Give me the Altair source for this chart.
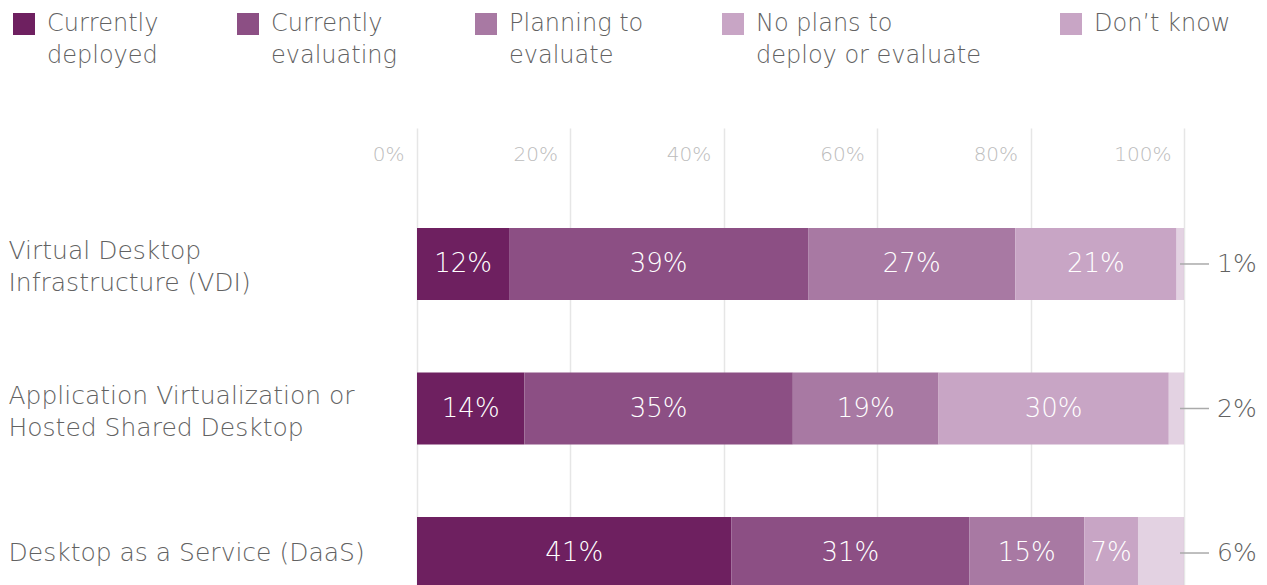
import altair as alt
import pandas as pd

FONT = "DejaVu Sans"
WEIGHT = 300
TEXT_GRAY = "#626262"

categories = [
    "Virtual Desktop|Infrastructure (VDI)",
    "Application Virtualization or|Hosted Shared Desktop",
    "Desktop as a Service (DaaS)",
]
statuses = [
    "Currently|deployed",
    "Currently|evaluating",
    "Planning to|evaluate",
    "No plans to|deploy or evaluate",
    "Don’t know|",
]
colors = ["#6e2060", "#8c4f84", "#a879a3", "#c8a5c5", "#c8a5c5"]
vdi = [12, 39, 27, 21, 1]
app = [14, 35, 19, 30, 2]
daas = [41, 31, 15, 7, 6]
ticks = [0, 20, 40, 60, 80, 100]

rows = []
for cat, vals in zip(categories, [vdi, app, daas]):
    start = 0
    for s, v in zip(statuses, vals):
        rows.append(dict(category=cat, status=s, value=v, start=start,
                         end=start + v, mid=start + v / 2, label=f"{v}%"))
        start += v
df = pd.DataFrame(rows)
DK = statuses[-1]


def ydef():
    return alt.Y(
        "category:N", sort=categories,
        scale=alt.Scale(paddingInner=0.502, paddingOuter=0.346, align=1),
        axis=alt.Axis(title=None, domain=False, ticks=False, labelAlign="left",
                      labelBaseline="middle", labelPadding=409, labelFontSize=25,
                      labelColor=TEXT_GRAY, labelLineHeight=32, labelLimit=420,
                      labelFont=FONT, labelFontWeight=WEIGHT,
                      labelOffset={"condition": {"test": "indexof(datum.value, '|') >= 0",
                                                 "value": -13}, "value": 0},
                      labelExpr="split(datum.label, '|')"),
    )


def xdef(field):
    return alt.X(
        f"{field}:Q",
        scale=alt.Scale(domain=[0, 100], nice=False, zero=True),
        axis=alt.Axis(orient="top", values=ticks, title=None, domain=False,
                      ticks=False, grid=True, gridColor="#e6e6e6", gridWidth=1.5,
                      labelAlign="right", labelOffset=-13, labelPadding=-26,
                      labelBaseline="middle", labelFontSize=20, labelColor="#bcbcbc",
                      labelFont=FONT, labelFontWeight=WEIGHT,
                      labelExpr="datum.value + '%'"),
    )


base = alt.Chart(df)

bars = base.mark_bar().encode(
    y=ydef(),
    x=xdef("start"),
    x2="end:Q",
    color=alt.Color(
        "status:N", sort=statuses,
        scale=alt.Scale(domain=statuses, range=colors),
        legend=alt.Legend(title=None, orient="none", legendX=-405, legendY=-116,
                          direction="horizontal", columns=5, columnPadding=77,
                          symbolType="square", symbolSize=484, symbolStrokeWidth=0,
                          symbolOpacity=1, labelFontSize=24, labelColor=TEXT_GRAY,
                          labelOffset=11, labelLimit=300, labelFont=FONT,
                          labelFontWeight=WEIGHT, labelBaseline="middle",
                          labelExpr="split(datum.label, '|')"),
    ),
    opacity=alt.condition(alt.datum.status == DK, alt.value(0.5), alt.value(1)),
)

inside = base.transform_filter(alt.datum.status != DK).mark_text(
    color="white", fontSize=26, font=FONT, fontWeight=WEIGHT
).encode(y=ydef(), x=xdef("mid"), text="label:N")

dk = base.transform_filter(alt.datum.status == DK)
rules = dk.mark_rule(color="#aaaaaa", strokeWidth=1.5, xOffset=-4, x2Offset=25).encode(
    y=ydef(), x=xdef("end"), x2="end:Q"
)
outside = dk.mark_text(align="left", dx=33, fontSize=25, color=TEXT_GRAY, font=FONT,
                       fontWeight=WEIGHT).encode(
    y=ydef(), x=xdef("end"), text="label:N"
)

chart = alt.layer(bars, inside, rules, outside).properties(
    width=767, height=461, autosize="none",
    padding={"left": 409, "top": 120, "right": 75, "bottom": 0},
).configure(font=FONT, style={"guide-label": {"lineHeight": 32}}).configure_view(stroke=None)

chart.save("out.html", embed_options={"renderer": "svg", "actions": False})
